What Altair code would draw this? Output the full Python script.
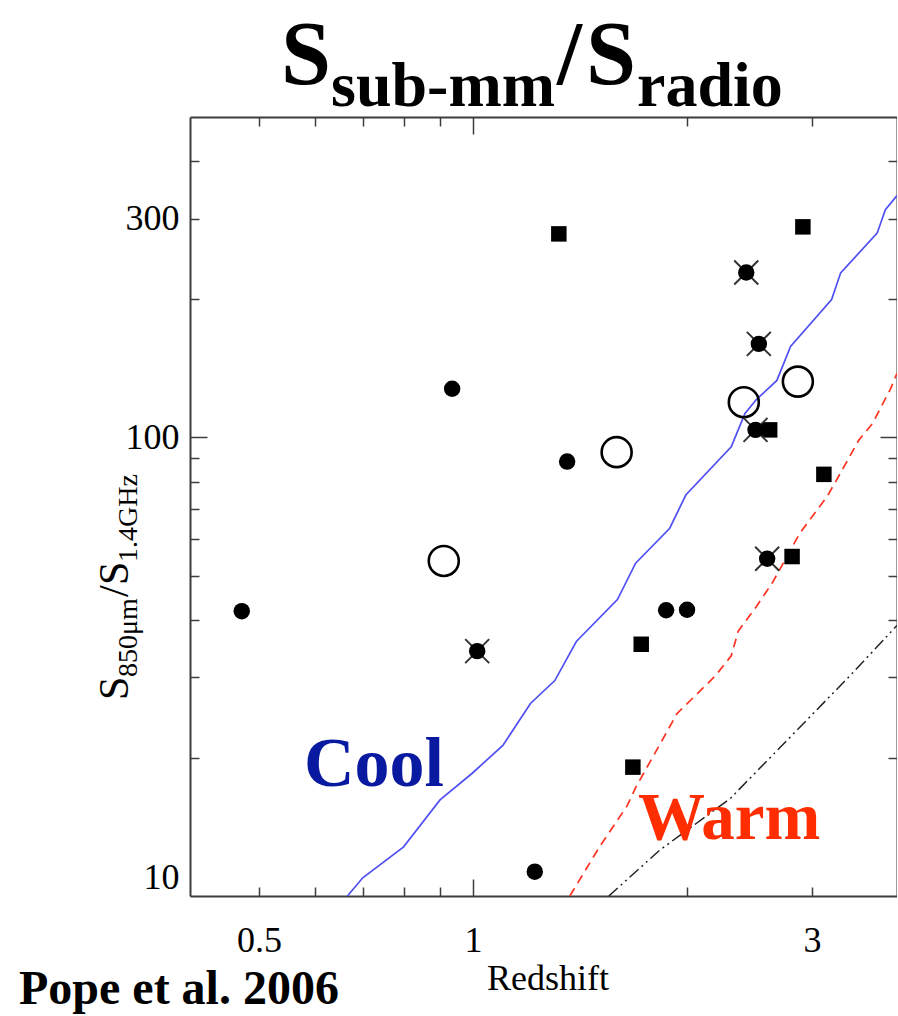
import altair as alt
import pandas as pd

# --- sub-mm sources: redshift and S850um / S1.4GHz flux ratio ---------------
circle_z = [0.473, 0.935, 1.357, 1.870, 2.001, 1.222]
circle_ratio = [41.8, 127.7, 88.6, 42.0, 42.1, 11.3]

cross_z = [1.014, 2.424, 2.525, 2.498, 2.594]
cross_ratio = [34.2, 229.0, 160.0, 103.9, 54.4]

square_z = [1.321, 2.912, 2.615, 3.117, 2.812, 1.725, 1.679]
square_ratio = [278.0, 288.0, 103.9, 83.1, 55.0, 35.4, 19.1]

ring_z = [0.910, 1.593, 2.405, 2.865]
ring_ratio = [53.8, 92.9, 119.4, 132.4]

# --- model SED tracks --------------------------------------------------------
cool_z = [0.666, 0.700, 0.799, 0.899, 0.997, 1.102, 1.205, 1.304, 1.398, 1.597,
          1.694, 1.892, 1.993, 2.309, 2.371, 2.414, 2.505, 2.677, 2.798, 3.196,
          3.291, 3.704, 3.804, 3.95]
cool_ratio = [10.0, 10.96, 12.8, 16.2, 18.5, 21.3, 26.3, 29.5, 35.9, 44.3,
              53.2, 63.4, 74.9, 95.4, 105.5, 112.8, 121.0, 133.2, 158.0, 200.0,
              228.6, 279.0, 314.0, 337.0]

warm_z = [1.369, 1.507, 1.647, 1.696, 1.826, 1.937, 2.193, 2.309, 2.362, 2.505,
          2.638, 2.716, 2.883, 3.149, 3.267, 3.491, 3.649, 3.87, 3.95]
warm_ratio = [10.0, 12.8, 15.7, 17.3, 21.2, 25.0, 30.2, 33.4, 37.8, 42.8,
              48.2, 52.3, 61.8, 74.3, 82.1, 98.7, 107.3, 127.8, 138.0]

hot_z = [1.553, 1.833, 2.3, 2.95, 3.39, 3.95]
hot_ratio = [10.0, 12.6, 16.3, 24.2, 30.2, 38.9]

# axis ticks and labels
x_labels = [0.5, 1, 3]
y_labels = [10, 100, 300]
x_ticks = [0.5, 0.6, 0.7, 0.8, 0.9, 1, 2, 3]
y_ticks = [20, 30, 40, 50, 60, 70, 80, 90, 100, 200, 300, 400]

W, H = 707, 779
PAD_L, PAD_T = 190, 117
SERIF = "Liberation Serif"
FRAME = "#3c3c3c"

xscale = alt.Scale(type="log", domain=[0.4, 3.95], nice=False)
yscale = alt.Scale(type="log", domain=[10, 500], nice=False)


def frame(z, r):
    return pd.DataFrame({"z": z, "ratio": r})


def enc(xaxis, yaxis):
    return dict(
        x=alt.X("z:Q", scale=xscale, axis=xaxis),
        y=alt.Y("ratio:Q", scale=yscale, axis=yaxis),
    )


x_tick_size = {"condition": {"test": "datum.value === 1", "value": 17}, "value": 9}
y_tick_size = {"condition": {"test": "datum.value === 100", "value": 17}, "value": 9}

# labelled axes (bottom / left), ticks drawn inward by the mirrored axes below
x_main = alt.Axis(orient="bottom", values=x_labels, format="~g", ticks=False, tickSize=0,
                  domainColor=FRAME, domainWidth=2, labelFont=SERIF, labelFontSize=36,
                  labelColor="black", labelPadding=55, labelBaseline="alphabetic",
                  title=None, grid=False)
y_main = alt.Axis(orient="left", values=y_labels, format="~g", ticks=False, tickSize=0,
                  domainColor=FRAME, domainWidth=2, labelFont=SERIF, labelFontSize=36,
                  labelColor="black", labelPadding=11, labelFlush=True,
                  title=None, grid=False)
# inward ticks along the bottom and left edges
x_in_bottom = alt.Axis(orient="top", offset=-H, values=x_ticks, labels=False, domain=False,
                       tickColor=FRAME, tickWidth=1.5, tickSize=x_tick_size,
                       title=None, grid=False)
y_in_left = alt.Axis(orient="right", offset=-W, values=y_ticks, labels=False, domain=False,
                     tickColor=FRAME, tickWidth=1.5, tickSize=y_tick_size,
                     title=None, grid=False)
# top and right frame edges with inward ticks
x_in_top = alt.Axis(orient="bottom", offset=-H, values=x_ticks, labels=False,
                    domainColor=FRAME, domainWidth=2, tickColor=FRAME, tickWidth=1.5,
                    tickSize=x_tick_size, title=None, grid=False)
y_in_right = alt.Axis(orient="left", offset=-W, values=y_ticks, labels=False,
                      domainColor=FRAME, domainWidth=2, tickColor=FRAME, tickWidth=1.5,
                      tickSize=y_tick_size, title=None, grid=False)

cool = alt.Chart(frame(cool_z, cool_ratio)).mark_line(
    color="#5050f2", strokeWidth=1.7, clip=True).encode(**enc(None, None))
warm = alt.Chart(frame(warm_z, warm_ratio)).mark_line(
    color="#ff3322", strokeWidth=1.7, strokeDash=[9, 6], clip=True).encode(**enc(None, None))
hot = alt.Chart(frame(hot_z, hot_ratio)).mark_line(
    color="#222222", strokeWidth=1.5, strokeDash=[12, 4, 2, 4, 2, 4], clip=True
).encode(**enc(None, None))

dots = alt.Chart(frame(circle_z, circle_ratio)).mark_circle(
    size=270, color="black", opacity=1).encode(**enc(x_main, y_main))
squares = alt.Chart(frame(square_z, square_ratio)).mark_square(
    size=240, color="black", opacity=1).encode(**enc(x_in_bottom, y_in_left))
rings = alt.Chart(frame(ring_z, ring_ratio)).mark_point(
    shape="circle", size=900, filled=False, color="black", strokeWidth=2.6, opacity=1
).encode(**enc(x_in_top, y_in_right))
# crossed sources: diagonal cross beneath a filled dot
cross_x = alt.Chart(frame(cross_z, cross_ratio)).mark_point(
    shape="M-1,-1L1,1M1,-1L-1,1", size=576, filled=False, color="#333333",
    strokeWidth=2, opacity=1).encode(**enc(None, None))
cross_dots = alt.Chart(frame(cross_z, cross_ratio)).mark_circle(
    size=270, color="black", opacity=1).encode(**enc(None, None))

one = alt.Data(values=[{}])


def label(text, x, y, size, color="black", weight="normal", align="left", angle=0):
    kw = dict(text=text, font=SERIF, fontSize=size, color=color, fontWeight=weight,
              align=align, baseline="alphabetic")
    if angle:
        kw["angle"] = angle
    return alt.Chart(one).mark_text(**kw).encode(
        x=alt.value(x - PAD_L), y=alt.value(y - PAD_T))


texts = [
    # main heading  S_sub-mm / S_radio
    label("S", 281, 84, 90, weight="bold"),
    label("sub-mm", 331, 106, 64, weight="bold"),
    label("/", 557, 84, 90, weight="bold"),
    label("S", 586, 84, 90, weight="bold"),
    label("radio", 637, 106, 64, weight="bold"),
    # y-axis title  S_850um / S_1.4GHz  (rotated)
    label("S", 128, 700, 42, angle=270),
    label("850μm", 137, 677, 28, angle=270),
    label("/", 128, 597, 42, angle=270),
    label("S", 128, 585, 42, angle=270),
    label("1.4GHz", 137, 562, 28, angle=270),
    # x-axis title
    label("Redshift", 548, 990, 36, align="center"),
    # track names
    label("Cool", 304, 786, 70, color="#0a1aa0", weight="bold"),
    label("Warm", 638, 839, 67, color="#ff2d00", weight="bold"),
    # reference
    label("Pope et al. 2006", 19, 1004, 48, weight="bold"),
]

chart = alt.layer(
    cool, warm, hot, dots, squares, rings, cross_x, cross_dots, *texts
).resolve_axis(
    x="independent", y="independent"
).properties(
    width=W, height=H,
    autosize=alt.AutoSizeParams(type="none"),
    padding={"left": PAD_L, "top": PAD_T, "right": 0, "bottom": 1016 - PAD_T - H},
    background="white",
).configure_view(stroke=None)

chart.save("out.html", embed_options={"renderer": "svg", "actions": False})
